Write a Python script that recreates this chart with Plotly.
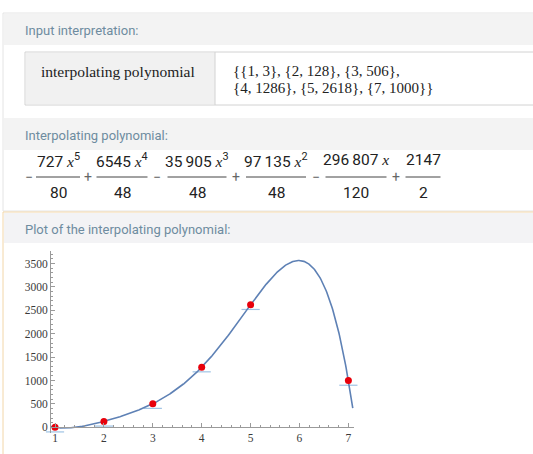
import numpy as np
import plotly.graph_objects as go

# ---- data ----
point_x = [1, 2, 3, 4, 5, 7]
point_y = [3, 128, 506, 1286, 2618, 1000]

coef_sign = [-1, 1, -1, 1, -1, 1]
coef_num = [727, 6545, 35905, 97135, 296807, 2147]
coef_den = [80, 48, 48, 48, 120, 2]
coef_pow = [5, 4, 3, 2, 1, 0]

x_ticks = [1, 2, 3, 4, 5, 6, 7]
y_ticks = [0, 500, 1000, 1500, 2000, 2500, 3000, 3500]

W, H = 533, 454


def px(x):
    return x / W


def py(y):
    return 1 - y / H


# polynomial curve from the displayed coefficients
x_lo, x_hi = 0.918, 7.115
xs = np.linspace(x_lo, 7.09, 500)
ys = np.zeros_like(xs)
for s, n, d, p in zip(coef_sign, coef_num, coef_den, coef_pow):
    ys += s * n / d * xs ** p

y_lo, y_hi = -120, 3777
dash_off = 100  # rendering offset of the light tick marks below each point

fig = go.Figure()
fig.add_trace(go.Scatter(
    x=point_x, y=[v - dash_off for v in point_y], mode="markers",
    marker=dict(symbol="line-ew", size=13, line=dict(color="#9fc3e4", width=1.2)),
    cliponaxis=False, hoverinfo="skip", showlegend=False))
fig.add_trace(go.Scatter(
    x=xs, y=ys, mode="lines", line=dict(color="#5e81b5", width=1.6),
    hoverinfo="skip", showlegend=False))
fig.add_trace(go.Scatter(
    x=point_x, y=point_y, mode="markers",
    marker=dict(color="#e8000b", size=7, line=dict(width=0)),
    cliponaxis=False, showlegend=False))

# plot area geometry
dom_x = [px(51), px(354)]
dom_y = [py(433), py(250.5)]
zero_pos = dom_y[0] + (0 - y_lo) / (y_hi - y_lo) * (dom_y[1] - dom_y[0])

axis_col = "#9a9a9a"
tick_font = dict(family="Liberation Serif", size=11.5, color="#3a3a3a")
fig.update_layout(
    width=W, height=H, margin=dict(l=0, r=0, t=0, b=0),
    paper_bgcolor="white", plot_bgcolor="rgba(0,0,0,0)",
    xaxis=dict(domain=dom_x, range=[x_lo, x_hi], anchor="free", position=zero_pos,
               showgrid=False, zeroline=False, showline=True, linecolor=axis_col, linewidth=1,
               tickvals=x_ticks, ticks="inside", ticklen=4, tickcolor=axis_col,
               minor=dict(dtick=0.2, ticks="inside", ticklen=2, tickcolor=axis_col),
               tickfont=tick_font),
    yaxis=dict(domain=dom_y, range=[y_lo, y_hi], showgrid=False, zeroline=False,
               showline=True, linecolor=axis_col, linewidth=1,
               tickvals=y_ticks, ticks="inside", ticklen=4, tickcolor=axis_col,
               minor=dict(dtick=100, ticks="inside", ticklen=2, tickcolor=axis_col),
               tickfont=tick_font),
)

shapes = []


def rect(x0, y0, x1, y1, fill, line=None, lw=1):
    shapes.append(dict(type="rect", xref="paper", yref="paper", layer="below",
                       x0=px(x0), x1=px(x1), y0=py(y1), y1=py(y0), fillcolor=fill,
                       line=dict(color=line or "rgba(0,0,0,0)", width=lw if line else 0)))


def hline(x0, x1, y, color, w=1):
    shapes.append(dict(type="line", xref="paper", yref="paper", layer="below",
                       x0=px(x0), x1=px(x1), y0=py(y), y1=py(y), line=dict(color=color, width=w)))


def vline(x, y0, y1, color, w=1):
    shapes.append(dict(type="line", xref="paper", yref="paper", layer="below",
                       x0=px(x), x1=px(x), y0=py(y0), y1=py(y1), line=dict(color=color, width=w)))


# pods
rect(3, 13, 560, 211, "white", "#e4e4e4")
rect(4, 14, 560, 45, "#f3f3f3")
rect(4, 118, 560, 150, "#f3f3f3")
rect(3, 212, 560, 480, "white", "#f2d6a8")
rect(4, 213, 560, 243, "#f3f3f5")
# table
rect(25, 52, 560, 105, "white", "#d2d2d2")
rect(26, 53, 215, 104, "#f1f1f1")
vline(215, 52, 105, "#d2d2d2")

annots = []
head_font = dict(family="Roboto", size=13, color="#6e8ca0")


def text(x, y, s, font, xanchor="left"):
    annots.append(dict(x=px(x), y=py(y), xref="paper", yref="paper", text=s, showarrow=False,
                       xanchor=xanchor, yanchor="middle", font=font))


text(23, 31, "Input interpretation:", head_font)
text(23, 135, "Interpolating polynomial:", head_font)
text(23, 229, "Plot of the interpolating polynomial:", head_font)

serif_l = dict(family="Liberation Serif", size=15.5, color="#222")
serif_r = dict(family="Liberation Serif", size=15, color="#222")
text(39, 71, "interpolating polynomial", serif_l)
pts = ["{%d, %d}" % (a, b) for a, b in zip(point_x, point_y)]
text(231, 71, "{" + ", ".join(pts[:3]) + ",", serif_r)
text(231, 88, ", ".join(pts[3:]) + "}", serif_r)

# formula
THIN = "\u2009"


def fmt(n):
    if n >= 10000:
        return f"{n:,}".replace(",", THIN)
    return str(n)


frac_cx = [58, 122, 197, 276, 356, 423]
frac_w = [44, 51, 59, 60, 61, 35]
op_x = [29, 88, 157, 236, 316, 396]
num_font = dict(family="Roboto", size=15.5, color="#222")
xvar = '<span style="font-family:Liberation Serif;font-style:italic">x</span>'
for i, (s, n, d, p) in enumerate(zip(coef_sign, coef_num, coef_den, coef_pow)):
    if p >= 2:
        num = f"{fmt(n)} {xvar}<sup>{p}</sup>"
    elif p == 1:
        num = f"{fmt(n)} {xvar}"
    else:
        num = fmt(n)
    text(frac_cx[i], 160, num, num_font, "center")
    text(frac_cx[i], 193, str(d), num_font, "center")
    hline(frac_cx[i] - frac_w[i] / 2, frac_cx[i] + frac_w[i] / 2, 177, "#444", 1)
    text(op_x[i], 177, "\u2212" if s < 0 else "+", dict(family="Roboto", size=14, color="#666"), "center")

fig.update_layout(shapes=shapes, annotations=annots)
fig.write_html("out.html")
